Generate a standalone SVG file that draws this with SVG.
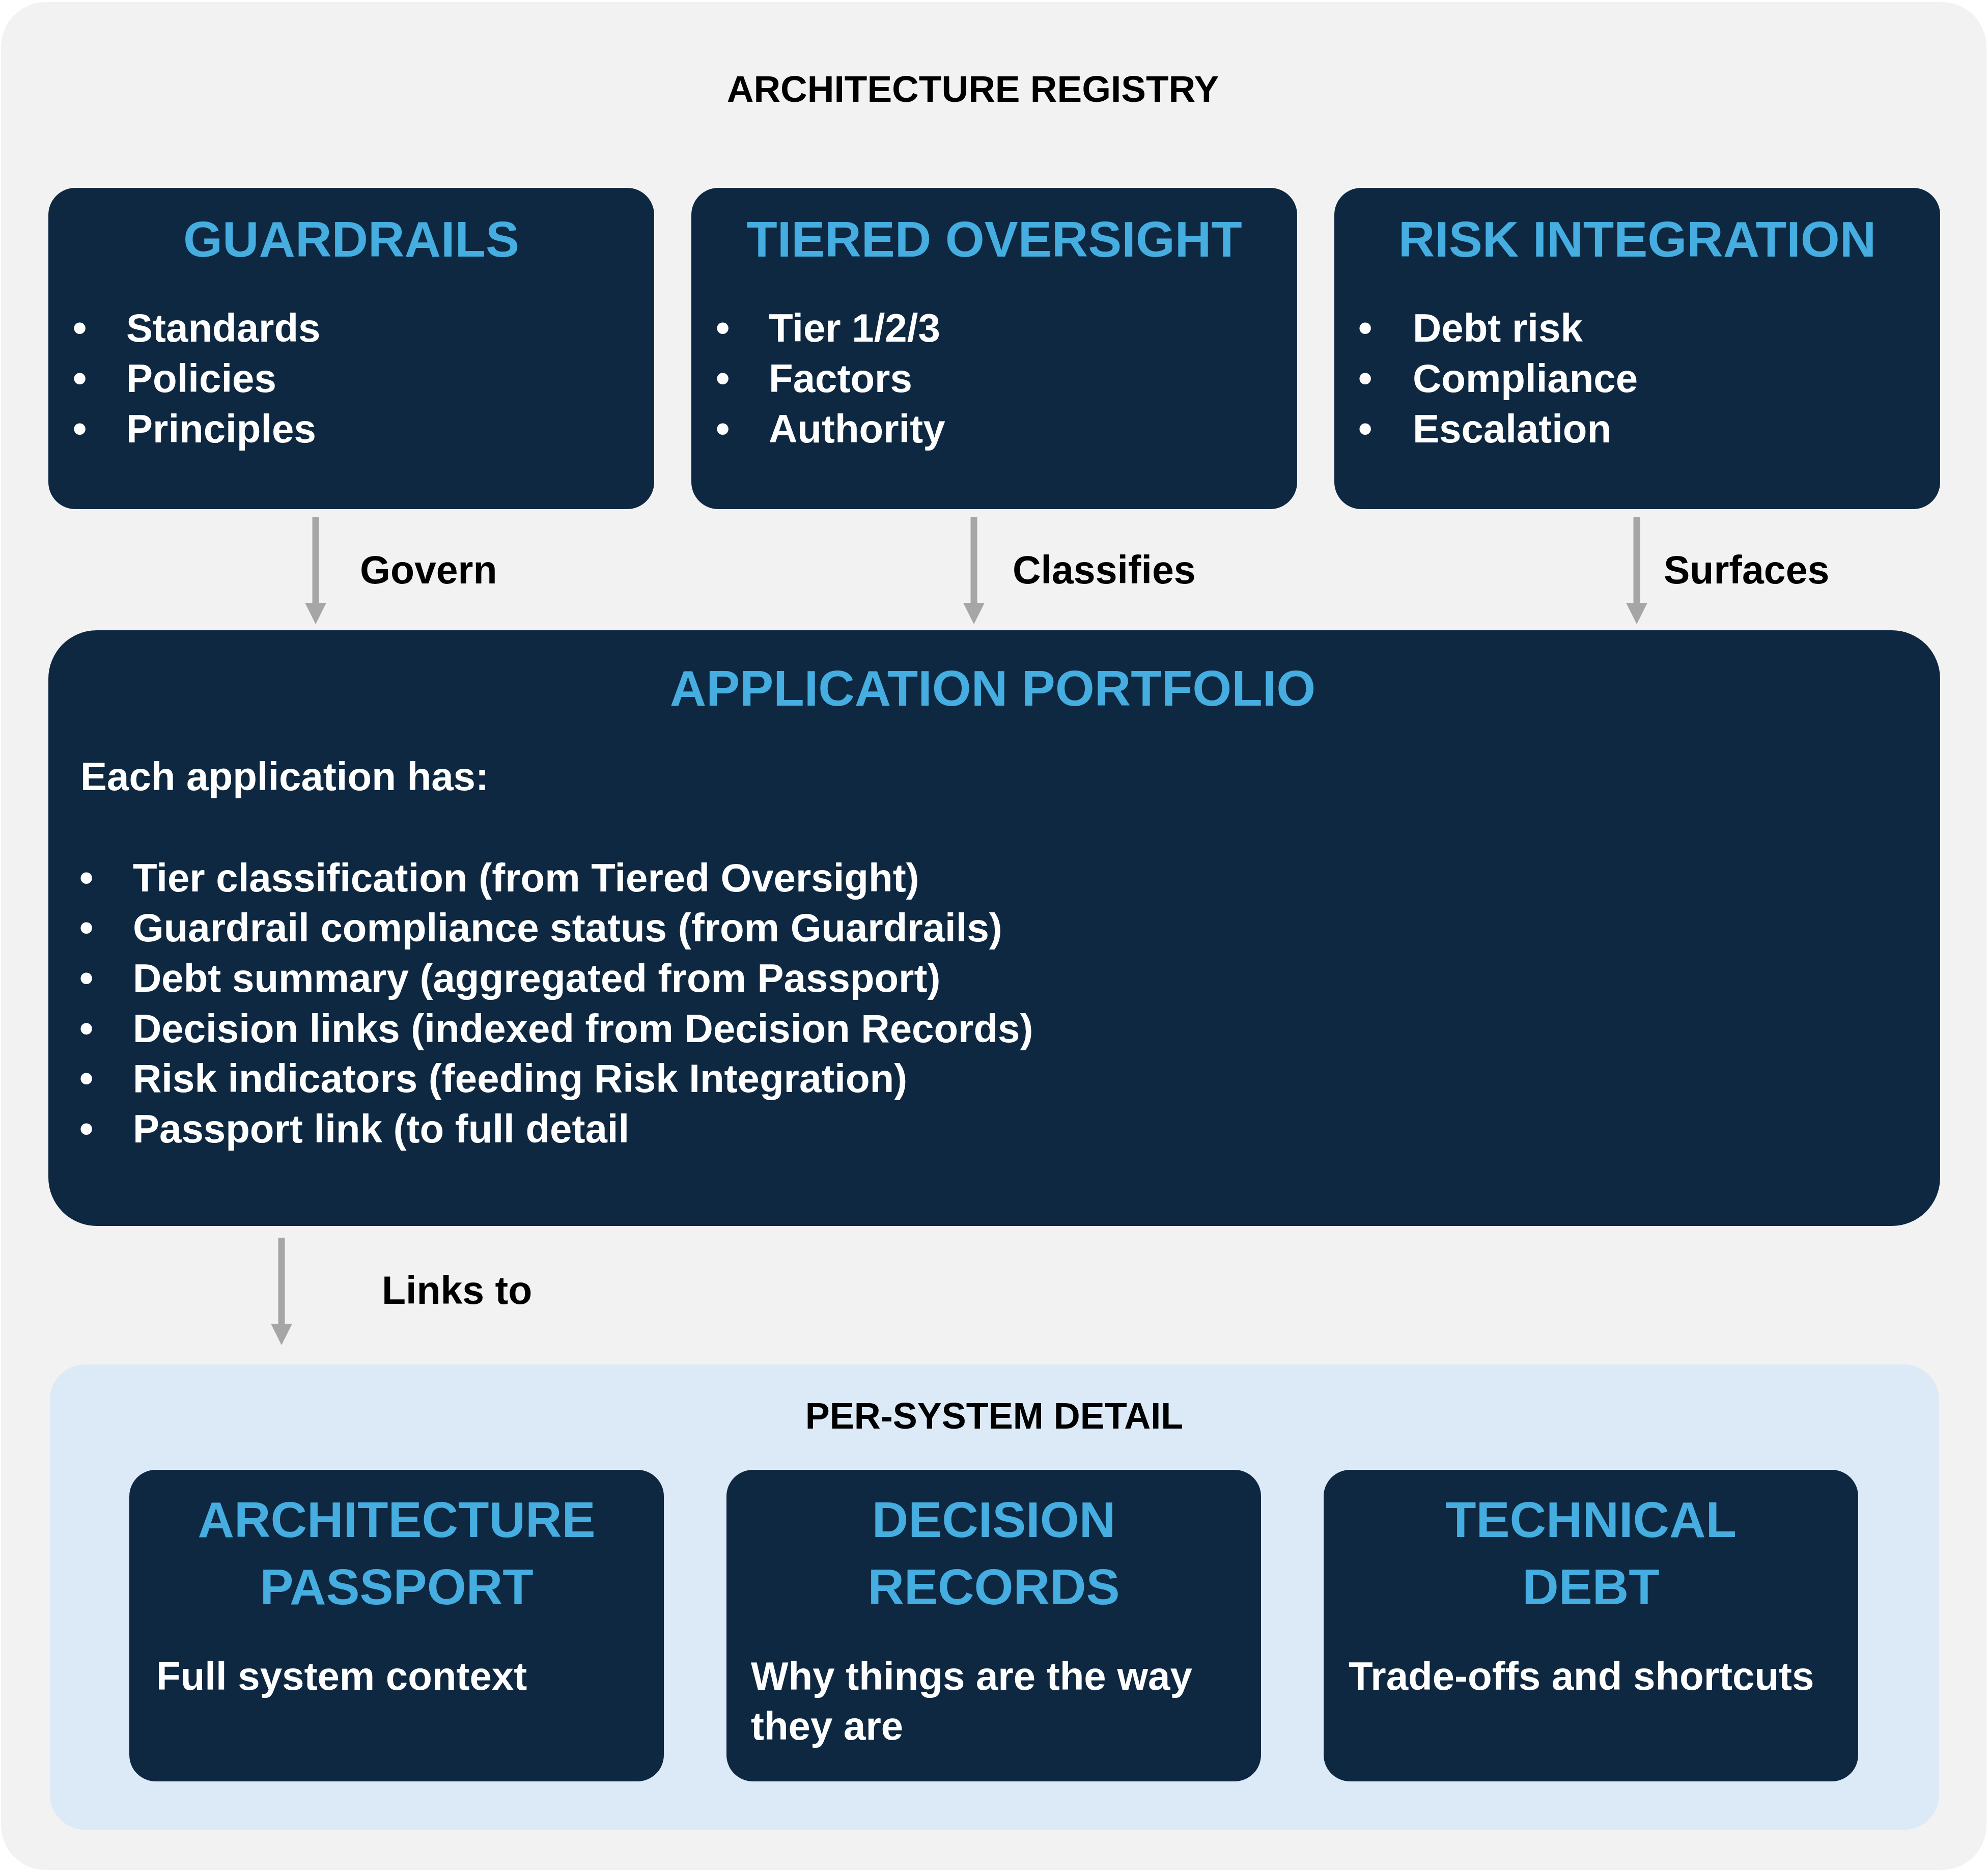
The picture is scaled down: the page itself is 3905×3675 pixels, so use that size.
<svg xmlns="http://www.w3.org/2000/svg" width="3905" height="3675" viewBox="0 0 3905 3675">
<style>
text{font-family:"Liberation Sans",Arial,sans-serif;font-weight:bold}
.box{fill:#0e2841}
.title{fill:#45ade0;font-size:99px;text-anchor:middle}
.item{fill:#ffffff;font-size:78px}
.label{fill:#000000;font-size:77px}
.head{fill:#000000;font-size:73px;text-anchor:middle}
.conn{stroke:#a6a6a6;stroke-width:13;fill:none}
</style>
<defs>
<marker id="arr" markerUnits="userSpaceOnUse" markerWidth="42" markerHeight="42" viewBox="0 0 42 42" refX="0" refY="21" orient="auto">
<path d="M0,0 L42,21 L0,42 Z" fill="#a6a6a6"/>
</marker>
</defs>
<rect id="background" x="2" y="4" width="3900" height="3669" rx="88" fill="#f2f2f2"/>
<text class="head" x="1911" y="200">ARCHITECTURE REGISTRY</text>

<g id="guardrails">
<rect class="box" x="95" y="369" width="1190" height="631" rx="53"/>
<text class="title" x="690" y="504">GUARDRAILS</text>
<text class="item" x="143" y="671">•</text><text class="item" x="248" y="671">Standards</text>
<text class="item" x="143" y="770">•</text><text class="item" x="248" y="770">Policies</text>
<text class="item" x="143" y="869">•</text><text class="item" x="248" y="869">Principles</text>
</g>

<g id="tiered-oversight">
<rect class="box" x="1358" y="369" width="1190" height="631" rx="53"/>
<text class="title" x="1953" y="504">TIERED OVERSIGHT</text>
<text class="item" x="1406" y="671">•</text><text class="item" x="1510" y="671">Tier 1/2/3</text>
<text class="item" x="1406" y="770">•</text><text class="item" x="1510" y="770">Factors</text>
<text class="item" x="1406" y="869">•</text><text class="item" x="1510" y="869">Authority</text>
</g>

<g id="risk-integration">
<rect class="box" x="2621" y="369" width="1190" height="631" rx="53"/>
<text class="title" x="3216" y="504">RISK INTEGRATION</text>
<text class="item" x="2668" y="671">•</text><text class="item" x="2775" y="671">Debt risk</text>
<text class="item" x="2668" y="770">•</text><text class="item" x="2775" y="770">Compliance</text>
<text class="item" x="2668" y="869">•</text><text class="item" x="2775" y="869">Escalation</text>
</g>

<g id="application-portfolio">
<rect class="box" x="95" y="1238" width="3716" height="1170" rx="95"/>
<text class="title" x="1950" y="1386">APPLICATION PORTFOLIO</text>
<text class="item" x="158" y="1552">Each application has:</text>
<text class="item" x="156" y="1751">•</text><text class="item" x="261" y="1751">Tier classification (from Tiered Oversight)</text>
<text class="item" x="156" y="1849">•</text><text class="item" x="261" y="1849">Guardrail compliance status (from Guardrails)</text>
<text class="item" x="156" y="1948">•</text><text class="item" x="261" y="1948">Debt summary (aggregated from Passport)</text>
<text class="item" x="156" y="2047">•</text><text class="item" x="261" y="2047">Decision links (indexed from Decision Records)</text>
<text class="item" x="156" y="2145">•</text><text class="item" x="261" y="2145">Risk indicators (feeding Risk Integration)</text>
<text class="item" x="156" y="2244">•</text><text class="item" x="261" y="2244">Passport link (to full detail</text>
</g>

<g id="per-system-detail">
<rect x="98" y="2680" width="3711" height="914" rx="69" fill="#dceaf7"/>
<text class="head" x="1953" y="2806" style="font-size:72px">PER-SYSTEM DETAIL</text>
</g>

<g id="architecture-passport">
<rect class="box" x="254" y="2887" width="1050" height="612" rx="52"/>
<text class="title" x="779" y="3019">ARCHITECTURE</text>
<text class="title" x="779" y="3151">PASSPORT</text>
<text class="item" x="307" y="3319">Full system context</text>
</g>

<g id="decision-records">
<rect class="box" x="1427" y="2887" width="1050" height="612" rx="52"/>
<text class="title" x="1952" y="3019">DECISION</text>
<text class="title" x="1952" y="3151">RECORDS</text>
<text class="item" x="1475" y="3319">Why things are the way</text>
<text class="item" x="1475" y="3417">they are</text>
</g>

<g id="technical-debt">
<rect class="box" x="2600" y="2887" width="1050" height="612" rx="52"/>
<text class="title" x="3125" y="3019">TECHNICAL</text>
<text class="title" x="3125" y="3151">DEBT</text>
<text class="item" x="2649" y="3319">Trade-offs and shortcuts</text>
</g>

<g id="connectors">
<line class="conn" x1="620" y1="1016" x2="620" y2="1184" marker-end="url(#arr)"/>
<text class="label" x="707" y="1146">Govern</text>
<line class="conn" x1="1913" y1="1016" x2="1913" y2="1184" marker-end="url(#arr)"/>
<text class="label" x="1989" y="1146">Classifies</text>
<line class="conn" x1="3215" y1="1016" x2="3215" y2="1184" marker-end="url(#arr)"/>
<text class="label" x="3268" y="1146">Surfaces</text>
<line class="conn" x1="553" y1="2431" x2="553" y2="2600" marker-end="url(#arr)"/>
<text class="label" x="750" y="2561">Links to</text>
</g>
</svg>
